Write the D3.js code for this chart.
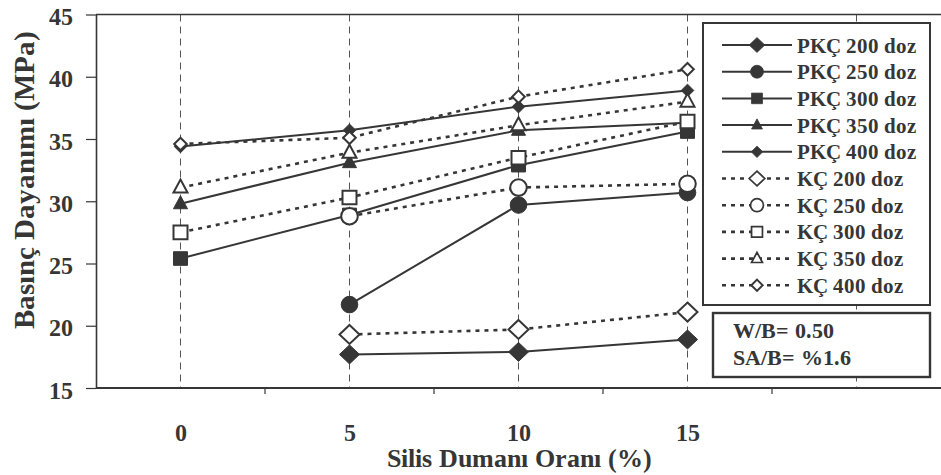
<!DOCTYPE html>
<html>
<head>
<meta charset="utf-8">
<script src="https://cdn.jsdelivr.net/npm/d3@7"></script>
<style>
  @font-face { font-family: "PlotSerif"; font-weight: bold; src: local("Liberation Serif Bold"), local("LiberationSerif-Bold"), local("Times New Roman Bold"); }
  @font-face { font-family: "PlotSerif"; font-weight: normal; src: local("Liberation Serif"), local("LiberationSerif"), local("Times New Roman"); }
</style>
</head>
<body style="margin:0">
<svg id="s" width="941" height="475"></svg>
<script>
// Silica fume ratio categories (last band is left unlabeled)
const categories = ["0", "5", "10", "15", ""];
const yTicks = [15, 20, 25, 30, 35, 40, 45];

// Compressive strength (MPa) per silica fume ratio 0, 5, 10, 15 %
const pkc200 = [null, 17.7, 17.9, 18.9];
const pkc250 = [null, 21.7, 29.7, 30.7];
const pkc300 = [25.4, 28.9, 32.9, 35.6];
const pkc350 = [29.8, 33.1, 35.7, 36.3];
const pkc400 = [34.4, 35.7, 37.6, 38.9];
const kc200 = [null, 19.3, 19.7, 21.1];
const kc250 = [null, 28.8, 31.1, 31.4];
const kc300 = [27.5, 30.3, 33.5, 36.4];
const kc350 = [31.1, 33.9, 36.1, 38.0];
const kc400 = [34.6, 35.1, 38.4, 40.6];

const seriesNames = ["PKÇ 200 doz", "PKÇ 250 doz", "PKÇ 300 doz", "PKÇ 350 doz", "PKÇ 400 doz",
                     "KÇ 200 doz", "KÇ 250 doz", "KÇ 300 doz", "KÇ 350 doz", "KÇ 400 doz"];
const seriesValues = [pkc200, pkc250, pkc300, pkc350, pkc400, kc200, kc250, kc300, kc350, kc400];
const seriesShapes = ["diamond", "circle", "square", "triangle", "smalldiamond",
                      "diamond", "circle", "square", "triangle", "smalldiamond"];
const seriesFilled = [true, true, true, true, true, false, false, false, false, false];

const infoLines = ["W/B= 0.50", "SA/B= %1.6"];

const ink = "#363636";
const svg = d3.select("#s");

// bold serif text helper
function styleText(sel, size) {
  return sel.attr("font-family", "Times New Roman")
    .style("font-family", '"PlotSerif", "Times New Roman", "Liberation Serif"')
    .style("font-size", size + "px")
    .style("font-weight", "bold").attr("fill", ink);
}

const plot = { left: 96, right: 941, top: 14.5, bottom: 388 };

const x = d3.scaleBand().domain(categories).range([plot.left, plot.right]).paddingInner(0).paddingOuter(0);
const y = d3.scaleLinear().domain([15, 45]).range([plot.bottom, plot.top]);
const xc = c => x(c) + x.bandwidth() / 2;

// marker path builders, centred on 0,0
function markerPath(shape) {
  const p = d3.path();
  if (shape === "diamond") {
    const w = 10, h = 9.5;
    p.moveTo(0, -h); p.lineTo(w, 0); p.lineTo(0, h); p.lineTo(-w, 0); p.closePath();
  } else if (shape === "smalldiamond") {
    const s = 6.3;
    p.moveTo(0, -s); p.lineTo(s, 0); p.lineTo(0, s); p.lineTo(-s, 0); p.closePath();
  } else if (shape === "circle") {
    p.arc(0, 0, 8.3, 0, Math.PI * 2); p.closePath();
  } else if (shape === "square") {
    p.rect(-7, -6.8, 14, 13.6);
  } else if (shape === "triangle") {
    p.moveTo(0, -8); p.lineTo(7, 5); p.lineTo(-7, 5); p.closePath();
  }
  return p.toString();
}

// dashed category gridlines
svg.append("g").selectAll("line").data(categories).join("line")
  .attr("x1", d => xc(d)).attr("x2", d => xc(d))
  .attr("y1", plot.top).attr("y2", plot.bottom)
  .attr("stroke", "#555").attr("stroke-width", 1).attr("stroke-dasharray", "7,5");

// frame: top line, left axis, bottom axis
svg.append("line").attr("x1", plot.left).attr("x2", plot.right).attr("y1", plot.top).attr("y2", plot.top)
  .attr("stroke", ink).attr("stroke-width", 1.6);

const yAxis = svg.append("g").attr("transform", `translate(${plot.left},0)`)
  .call(d3.axisLeft(y).tickValues(yTicks).tickSize(10).tickPadding(13).tickSizeOuter(0));
yAxis.attr("font-family", "Times New Roman").attr("font-size", 24);
yAxis.select(".domain").attr("stroke", ink).attr("stroke-width", 1.6);
yAxis.selectAll(".tick line").attr("stroke", ink).attr("stroke-width", 1.2);
styleText(yAxis.selectAll(".tick text"), 24).attr("dy", "0.42em");

svg.append("line").attr("x1", plot.left).attr("x2", plot.right).attr("y1", plot.bottom).attr("y2", plot.bottom)
  .attr("stroke", ink).attr("stroke-width", 1.8);
// ticks at band edges
svg.append("g").selectAll("line").data(categories.slice(1)).join("line")
  .attr("x1", d => x(d)).attr("x2", d => x(d))
  .attr("y1", plot.bottom).attr("y2", plot.bottom + 6)
  .attr("stroke", ink).attr("stroke-width", 1.2);
// category labels
styleText(svg.append("g").selectAll("text").data(categories).join("text")
  .attr("x", d => xc(d)).attr("y", 441)
  .attr("text-anchor", "middle"), 24)
  .text(d => d);

// axis titles
styleText(svg.append("text").attr("x", 519).attr("y", 467).attr("text-anchor", "middle"), 26)
  .text("Silis Dumanı Oranı (%)");
styleText(svg.append("text").attr("transform", "translate(34,180) rotate(-90)").attr("text-anchor", "middle"), 29)
  .text("Basınç Dayanımı (MPa)");

// series lines and markers
const line = d3.line().defined(d => d.v !== null).x(d => xc(d.c)).y(d => y(d.v));
const seriesG = svg.append("g");
seriesValues.forEach((vals, i) => {
  const pts = vals.map((v, j) => ({ c: categories[j], v }));
  const g = seriesG.append("g");
  g.append("path").datum(pts).attr("d", line).attr("fill", "none")
    .attr("stroke", ink)
    .attr("stroke-width", seriesFilled[i] ? 2 : 2.6)
    .attr("stroke-dasharray", seriesFilled[i] ? null : "4,5");
  g.selectAll("path.m").data(pts.filter(d => d.v !== null)).join("path").attr("class", "m")
    .attr("transform", d => `translate(${xc(d.c)},${y(d.v)})`)
    .attr("d", markerPath(seriesShapes[i]))
    .attr("fill", seriesFilled[i] ? ink : "#fff")
    .attr("stroke", ink).attr("stroke-width", seriesFilled[i] ? 1 : 2);
});

// legend
const legend = svg.append("g");
legend.append("rect").attr("x", 703).attr("y", 23).attr("width", 227).attr("height", 282)
  .attr("fill", "#fff").attr("stroke", ink).attr("stroke-width", 2);
const rowY = i => 45 + i * 26.7;
seriesNames.forEach((name, i) => {
  const g = legend.append("g").attr("transform", `translate(0,${rowY(i)})`);
  g.append("line").attr("x1", 722).attr("x2", 792).attr("y1", 0).attr("y2", 0)
    .attr("stroke", ink).attr("stroke-width", seriesFilled[i] ? 2 : 2.6)
    .attr("stroke-dasharray", seriesFilled[i] ? null : "4,5");
  const small = seriesShapes[i] === "smalldiamond";
  g.append("path").attr("transform", `translate(757,0) scale(${small ? 0.9 : 0.78})`)
    .attr("d", markerPath(seriesShapes[i]))
    .attr("fill", seriesFilled[i] ? ink : "#fff")
    .attr("stroke", ink).attr("stroke-width", seriesFilled[i] ? 1 : 2.2);
  const parts = name.split(" ");
  const t = styleText(g.append("text").attr("x", 797).attr("y", 0).attr("dy", "0.36em"), 21);
  t.append("tspan").text(parts[0] + " " + parts[1]);
  t.append("tspan").attr("dx", 5).text(parts[2]);
});

// mix information box
const info = svg.append("g");
info.append("rect").attr("x", 713).attr("y", 313).attr("width", 217).attr("height", 64)
  .attr("fill", "#fff").attr("stroke", ink).attr("stroke-width", 2.4);
styleText(info.selectAll("text").data(infoLines).join("text")
  .attr("x", 733).attr("y", (d, i) => 330 + i * 27).attr("dy", "0.36em"), 22)
  .text(d => d);
</script>
</body>
</html>
